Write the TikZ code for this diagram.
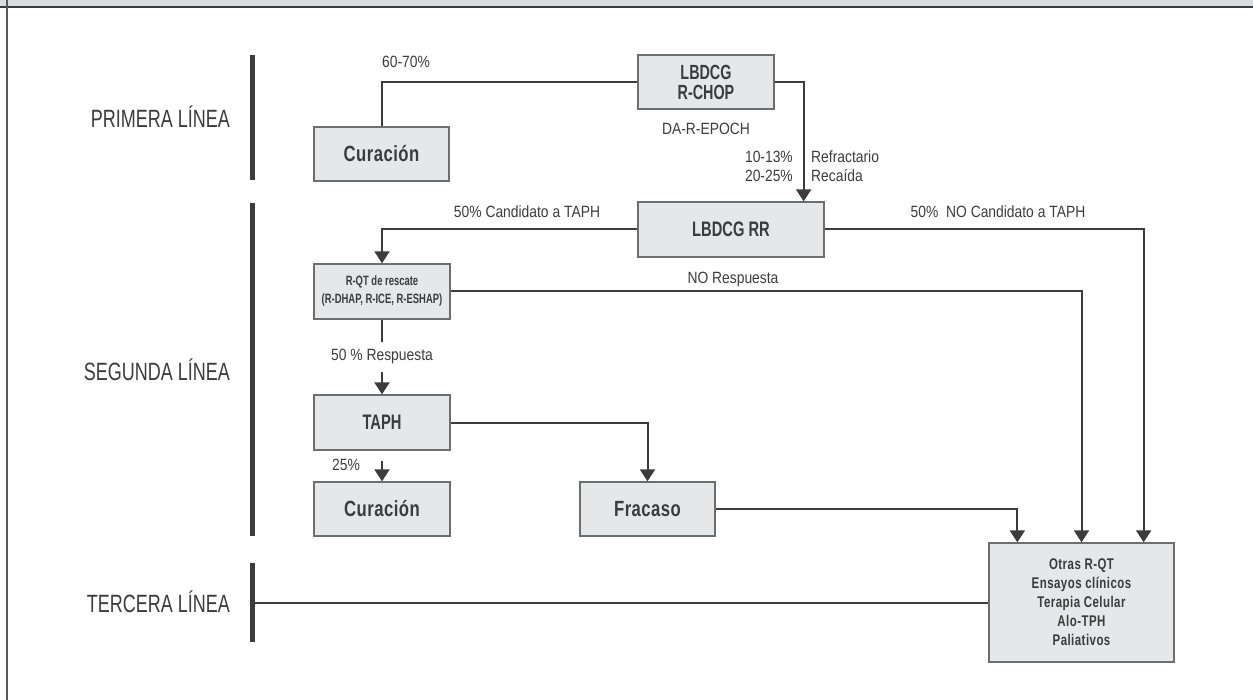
\documentclass[tikz,border=0pt]{standalone}
\usepackage{fontspec}
\setmainfont{Liberation Sans}[FakeStretch=0.85]
\newfontfamily\hfont{Liberation Sans}[FakeStretch=0.72]
\newfontfamily\bfont{Liberation Sans}[FakeStretch=0.7]
\newfontfamily\bsfont{Liberation Sans}[FakeStretch=0.76, LetterSpace=2]
\newfontfamily\otfont{Liberation Sans}[FakeStretch=0.74, LetterSpace=3]
\usetikzlibrary{arrows.meta}
\definecolor{ink}{HTML}{3C3C3C}
\definecolor{boxfill}{HTML}{E6E7E8}
\definecolor{boxline}{HTML}{6D6E70}
\definecolor{band}{HTML}{DCDDDE}
\begin{document}
\begin{tikzpicture}[x=1pt,y=-1pt,
  box/.style={draw=boxline, fill=boxfill, line width=1.3pt, align=center, text=ink, inner sep=0pt},
  bigtxt/.style={font=\bsfont\bfseries\fontsize{22}{24}\selectfont},
  midtxt/.style={font=\bfont\bfseries\fontsize{21}{22}\selectfont},
  conn/.style={draw=ink, line width=2pt},
  arr/.style={conn, -{Triangle[width=15pt,length=12pt]}},
  lbl/.style={text=ink, inner sep=0pt, font=\fontsize{16.3}{19}\selectfont},
  head/.style={text=ink, inner sep=0pt, anchor=east, font=\hfont\fontsize{25}{28}\selectfont},
  bar/.style={draw=ink, line width=5pt}]
\useasboundingbox (0,0) rectangle (1253,700);
% frame
\fill[band] (0,0) rectangle (1253,7);
\draw[ink, line width=1.6pt] (0,7) -- (1253,7);
\draw[black!65, line width=1.6pt] (7,0) -- (7,700);
% headers and bars
\node[head] (h1) at (230,117) {PRIMERA LÍNEA};
\node[head] (h2) at (230,370) {SEGUNDA LÍNEA};
\node[head] (h3) at (230,602) {TERCERA LÍNEA};
\draw[bar] (252,55) -- (252,180);
\draw[bar] (252,203) -- (252,536);
\draw[bar] (252,563) -- (252,642);
\coordinate (t3) at (252,602.5);
% boxes
\node[box, font=\bfont\bfseries\fontsize{20.5}{20}\selectfont, minimum width=136pt, minimum height=54pt] (rchop) at (706,82) {LBDCG\\R-CHOP};
\node[box, bigtxt, minimum width=135pt, minimum height=54pt] (cur1) at (381.5,154) {Curación};
\node[box, midtxt, minimum width=186pt, minimum height=55pt] (rr) at (731,229.5) {LBDCG RR};
\node[box, font=\bfont\bfseries\fontsize{13.5}{18}\selectfont, minimum width=136pt, minimum height=55pt] (rqt) at (382,291.5) {R-QT de rescate\\(R-DHAP, R-ICE, R-ESHAP)};
\node[box, midtxt, minimum width=136pt, minimum height=55pt] (taph) at (382,422.5) {TAPH};
\node[box, bigtxt, minimum width=136pt, minimum height=54pt] (cur2) at (382,509) {Curación};
\node[box, bigtxt, minimum width=135pt, minimum height=54pt] (frac) at (647.5,509) {Fracaso};
\node[box, font=\otfont\bfseries\fontsize{15.5}{19}\selectfont, minimum width=185pt, minimum height=119pt] (otras) at (1081.5,602.5) {Otras R-QT\\Ensayos clínicos\\Terapia Celular\\Alo-TPH\\Paliativos};
% connectors
\draw[conn] (cur1.north) |- (rchop.west);
\draw[arr] (rchop.east) -| ([xshift=-21pt]rr.north east);
\draw[arr] (rr.west) -| (rqt.north);
\draw[arr] (rr.east) -| ([xshift=-31pt]otras.north east);
\draw[arr] (rqt.east) -| (otras.north);
\draw[arr] (taph.east) -| (frac.north);
\draw[arr] (frac.east) -| ([xshift=29pt]otras.north west);
\draw[arr] (rqt.south) -- (taph.north);
\draw[arr, shorten <=10pt] (taph.south) -- (cur2.north);
\draw[conn] (t3) -- (otras.west);
% labels
\node[lbl, anchor=west] (l1) at (382,62) {60-70\%};
\node[lbl] (l2) at (706,129) {DA-R-EPOCH};
\node[lbl, anchor=east, align=right] (l3) at (793,166.5) {10-13\%\\20-25\%};
\node[lbl, anchor=west, align=left] (l4) at (811,166.5) {Refractario\\Recaída};
\node[lbl] (l5) at (527,212) {50\% Candidato a TAPH};
\node[lbl] (l6) at (998,212) {50\%\ \ NO Candidato a TAPH};
\node[lbl] (l7) at (733,280) {NO Respuesta};
\node[lbl, fill=white, inner xsep=2pt, inner ysep=8pt] (l8) at (382,357) {50 \% Respuesta};
\node[lbl] (l9) at (346,465) {25\%};
\end{tikzpicture}
\end{document}
